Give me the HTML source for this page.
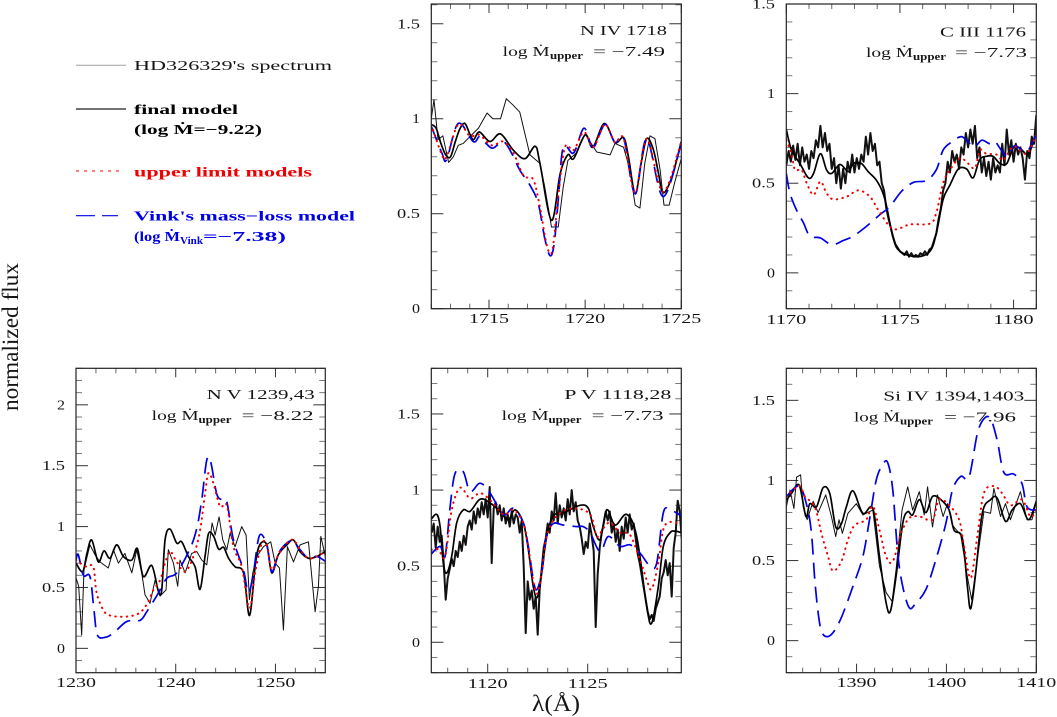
<!DOCTYPE html>
<html lang="en">
<head>
<meta charset="utf-8">
<title>HD326329 spectral line fits</title>
<style>
html,body{margin:0;padding:0;background:#fff;}
#figure{display:block;width:1057px;height:717px;background:#fff;}
text{font-family:"Liberation Serif","DejaVu Serif",serif;font-size:14px;fill:#161616;}
.b{font-weight:bold;fill:#000;}
.r{font-weight:bold;fill:#f00000;}
.u{font-weight:bold;fill:#0000e6;}
.sub{font-size:10px;font-weight:bold;}
.title{font-size:23px;}
</style>
</head>
<body>
<svg id="figure" xmlns="http://www.w3.org/2000/svg" width="1057" height="717" viewBox="0 0 1057 717">
  <g id="plots"></g>

  <g>
    <line x1="76" y1="65.3" x2="126" y2="65.3" stroke="#a0a0a0" stroke-width="1"/>
    <text x="134" y="70" textLength="198" lengthAdjust="spacingAndGlyphs">HD326329's spectrum</text>
    <line x1="76" y1="109" x2="126" y2="109" stroke="#444" stroke-width="1.6"/>
    <text class="b" x="134" y="114" textLength="104" lengthAdjust="spacingAndGlyphs">final model</text>
    <text class="b" x="134" y="134" textLength="128" lengthAdjust="spacingAndGlyphs">(log Ṁ=−9.22)</text>
    <line x1="76" y1="171" x2="124" y2="171" stroke="#f00000" stroke-width="1" stroke-dasharray="3 5"/>
    <text class="r" x="134" y="176.7" textLength="178" lengthAdjust="spacingAndGlyphs">upper limit models</text>
    <line x1="76" y1="215.7" x2="118" y2="215.7" stroke="#0000e6" stroke-width="1.2" stroke-dasharray="19 7"/>
    <text class="u" x="134" y="220.7" textLength="221" lengthAdjust="spacingAndGlyphs">Vink's mass−loss model</text>
    <text class="u" x="134" y="241" textLength="46" lengthAdjust="spacingAndGlyphs">(log Ṁ</text>
    <text class="u sub" x="180" y="244" textLength="23" lengthAdjust="spacingAndGlyphs">Vink</text>
    <text class="u" x="203" y="241" textLength="83" lengthAdjust="spacingAndGlyphs">=−7.38)</text>
  </g>

  <g>
    <text x="580" y="35" textLength="87" lengthAdjust="spacingAndGlyphs">N IV  1718</text>
    <text x="502.7" y="56" textLength="47" lengthAdjust="spacingAndGlyphs">log Ṁ</text>
    <text class="sub" x="550" y="59" textLength="33" lengthAdjust="spacingAndGlyphs">upper</text>
    <text x="593" y="56" textLength="72" lengthAdjust="spacingAndGlyphs">= −7.49</text>

    <text x="940" y="36.7" textLength="86" lengthAdjust="spacingAndGlyphs">C III  1176</text>
    <text x="866" y="57" textLength="47" lengthAdjust="spacingAndGlyphs">log Ṁ</text>
    <text class="sub" x="913" y="60" textLength="33" lengthAdjust="spacingAndGlyphs">upper</text>
    <text x="955" y="57" textLength="72" lengthAdjust="spacingAndGlyphs">= −7.73</text>

    <text x="206.7" y="399" textLength="108" lengthAdjust="spacingAndGlyphs">N V  1239,43</text>
    <text x="151.7" y="420" textLength="47" lengthAdjust="spacingAndGlyphs">log Ṁ</text>
    <text class="sub" x="198.5" y="423" textLength="33" lengthAdjust="spacingAndGlyphs">upper</text>
    <text x="241.7" y="420" textLength="72" lengthAdjust="spacingAndGlyphs">= −8.22</text>

    <text x="564.3" y="399" textLength="107" lengthAdjust="spacingAndGlyphs">P V  1118,28</text>
    <text x="501.7" y="420" textLength="47" lengthAdjust="spacingAndGlyphs">log Ṁ</text>
    <text class="sub" x="548.5" y="423" textLength="33" lengthAdjust="spacingAndGlyphs">upper</text>
    <text x="591.7" y="420" textLength="72" lengthAdjust="spacingAndGlyphs">= −7.73</text>

    <text x="883.3" y="400.7" textLength="141" lengthAdjust="spacingAndGlyphs">Si IV  1394,1403</text>
    <text x="854" y="421.7" textLength="46" lengthAdjust="spacingAndGlyphs">log Ṁ</text>
    <text class="sub" x="900" y="424.7" textLength="33" lengthAdjust="spacingAndGlyphs">upper</text>
    <text x="944" y="421.7" textLength="72" lengthAdjust="spacingAndGlyphs">= −7.96</text>
  </g>

  <text class="title" transform="translate(18 411) rotate(-90)" textLength="148" lengthAdjust="spacingAndGlyphs">normalized flux</text>
  <text class="title" x="532" y="711" textLength="48" lengthAdjust="spacingAndGlyphs">λ(Å)</text>
</svg>

<script>
/* ---------- N IV 1718 ---------- */
const n4XTicks = [1715, 1720, 1725];
const n4YTicks = [0, 0.5, 1, 1.5];
const n4SpectrumWave = [1712,1712.14,1712.35,1712.6,1712.9,1713.15,1713.4,1713.66,1714,1714.45,1714.9,1715.2,1715.6,1715.9,1716.27,1716.6,1716.87,1717.13,1717.65,1717.9,1718.25,1718.6,1718.86,1719.1,1719.55,1720,1720.6,1721.3,1721.55,1722,1722.33,1722.6,1722.85,1723.1,1723.37,1723.63,1723.9,1724.1,1724.37,1724.67,1725];
const n4SpectrumFlux = [1.0,1.10,0.89,0.91,0.77,0.80,0.86,0.87,0.905,0.95,1.03,1.0,1.0,1.105,1.07,1.035,0.92,0.81,0.765,0.64,0.43,0.43,0.64,0.78,0.82,0.92,0.825,0.81,0.87,0.85,0.73,0.545,0.53,0.765,0.91,0.895,0.73,0.545,0.545,0.67,0.79];
const n4FinalWave = [1712,1712.25,1712.5,1712.75,1713,1713.25,1713.5,1713.75,1714,1714.2,1714.5,1715.05,1715.6,1716.26,1716.87,1717.4,1717.65,1718.25,1718.7,1719.1,1719.4,1720,1720.4,1721,1721.55,1722,1722.25,1722.6,1722.9,1723.2,1723.54,1723.8,1724.05,1724.5,1725];
const n4FinalFlux = [0.97,0.95,0.87,0.81,0.80,0.88,0.95,0.975,0.92,0.89,0.93,0.88,0.92,0.835,0.79,0.855,0.765,0.465,0.71,0.81,0.79,0.915,0.85,0.975,0.875,0.90,0.80,0.605,0.76,0.895,0.84,0.72,0.61,0.69,0.88];
const n4UpperWave = [1712,1712.55,1712.8,1713.4,1714,1714.5,1715.14,1715.74,1716.27,1716.8,1717.3,1717.65,1717.95,1718.17,1718.34,1718.6,1718.95,1719.4,1719.94,1720.42,1721.03,1721.55,1722,1722.6,1723.2,1724.05,1725];
const n4UpperFlux = [0.97,0.81,0.80,0.97,0.91,0.915,0.86,0.88,0.82,0.70,0.68,0.535,0.36,0.29,0.335,0.59,0.85,0.835,0.93,0.85,0.97,0.875,0.895,0.61,0.895,0.615,0.88];
const n4VinkWave = [1712,1712.55,1712.8,1713.4,1714.18,1714.5,1714.85,1715.2,1715.74,1716.17,1716.6,1717.13,1717.56,1717.9,1718.17,1718.38,1718.6,1718.86,1719.4,1719.94,1720.42,1721.03,1721.55,1722,1722.6,1723.2,1724.05,1725];
const n4VinkFlux = [0.96,0.82,0.785,0.975,0.88,0.905,0.87,0.845,0.88,0.82,0.73,0.65,0.555,0.37,0.28,0.335,0.57,0.85,0.82,0.95,0.85,0.97,0.875,0.90,0.605,0.895,0.59,0.87];

/* ---------- C III 1176 ---------- */
const c3XTicks = [1170, 1175, 1180];
const c3YTicks = [0, 0.5, 1, 1.5];
const c3SpectrumStart = 1170;
const c3SpectrumStep = 0.1;
const c3SpectrumFlux = [0.60,0.68,0.62,0.71,0.63,0.72,0.60,0.70,0.62,0.66,0.58,0.68,0.64,0.74,0.70,0.82,0.70,0.78,0.68,0.72,0.58,0.64,0.50,0.60,0.47,0.58,0.50,0.62,0.56,0.66,0.56,0.64,0.58,0.66,0.62,0.76,0.66,0.78,0.68,0.72,0.60,0.62,0.50,0.46,0.36,0.30,0.25,0.20,0.16,0.14,0.12,0.11,0.10,0.12,0.09,0.11,0.09,0.10,0.09,0.11,0.10,0.12,0.10,0.13,0.14,0.18,0.22,0.30,0.36,0.46,0.50,0.62,0.56,0.68,0.62,0.66,0.58,0.70,0.66,0.78,0.70,0.80,0.72,0.82,0.64,0.70,0.56,0.64,0.54,0.62,0.52,0.64,0.56,0.60,0.56,0.72,0.60,0.80,0.66,0.74,0.62,0.72,0.66,0.70,0.64,0.52,0.68,0.64,0.76,0.72,0.88];
const c3FinalWave = [1170,1170.23,1170.6,1170.97,1171.2,1171.5,1171.77,1172,1172.36,1172.73,1172.95,1173.3,1173.6,1174,1174.34,1174.7,1175,1175.73,1176.32,1176.6,1176.9,1177.2,1177.57,1177.93,1178.22,1178.5,1178.8,1179.1,1179.4,1179.7,1180,1180.28,1180.65,1181];
const c3FinalFlux = [0.80,0.685,0.61,0.53,0.555,0.665,0.575,0.555,0.605,0.565,0.61,0.61,0.565,0.51,0.41,0.195,0.12,0.09,0.12,0.22,0.41,0.49,0.58,0.58,0.53,0.63,0.65,0.65,0.61,0.61,0.70,0.695,0.665,0.78];
const c3UpperWave = [1170,1170.23,1170.38,1170.67,1170.9,1171.2,1171.5,1171.77,1172.07,1172.65,1173.17,1173.68,1174.1,1174.7,1175.44,1176.32,1176.6,1176.9,1177.2,1177.64,1178,1178.3,1178.52,1178.8,1179.25,1179.55,1180,1180.57,1181];
const c3UpperFlux = [0.74,0.665,0.575,0.575,0.50,0.435,0.51,0.445,0.41,0.425,0.46,0.425,0.34,0.245,0.27,0.275,0.335,0.50,0.575,0.64,0.61,0.585,0.685,0.665,0.66,0.63,0.705,0.665,0.77];
const c3VinkWave = [1170,1170.16,1170.45,1170.75,1171.04,1171.5,1172,1172.5,1172.95,1173.53,1174.12,1174.56,1175.07,1175.6,1176.17,1176.6,1176.9,1177.27,1177.7,1178,1178.3,1178.6,1178.96,1179.2,1179.7,1180.06,1180.57,1181];
const c3VinkFlux = [0.555,0.445,0.35,0.28,0.205,0.195,0.157,0.18,0.205,0.26,0.325,0.37,0.455,0.505,0.515,0.575,0.685,0.73,0.76,0.73,0.705,0.74,0.72,0.73,0.65,0.71,0.675,0.775];

/* ---------- N V 1239,43 ---------- */
const n5XTicks = [1230, 1240, 1250];
const n5YTicks = [0, 0.5, 1, 1.5, 2];
const n5SpectrumWave = [1230,1230.27,1230.57,1230.8,1231.4,1231.9,1232.4,1233.24,1233.75,1234.25,1234.9,1235.6,1236.09,1236.59,1236.92,1237.42,1237.93,1238.43,1239.03,1239.26,1239.77,1240.2,1240.43,1240.94,1241.6,1242.11,1242.61,1243.11,1243.65,1243.95,1244.35,1244.72,1245.12,1245.45,1245.95,1246.62,1247.06,1247.39,1247.73,1248.13,1248.8,1249.53,1249.97,1250.4,1250.8,1251.2,1251.81,1252.47,1253.31,1253.98,1254.31,1254.55,1255];
const n5SpectrumFlux = [0.58,0.51,0.11,0.645,0.85,0.77,0.71,0.66,0.81,0.70,0.78,0.62,0.81,0.62,0.44,0.37,0.56,0.43,0.48,0.81,0.70,0.51,0.725,0.62,0.78,0.795,0.725,0.685,1.03,0.93,1.08,0.89,0.81,0.945,0.835,1.0,0.93,0.40,0.62,0.755,0.835,0.875,0.70,0.66,0.15,0.835,0.71,0.85,0.875,0.30,0.51,0.92,0.755];
const n5FinalWave = [1230,1230.67,1231.1,1231.57,1232.24,1232.8,1233.4,1234.08,1234.75,1235.6,1236.15,1236.75,1237.6,1238.26,1238.6,1238.93,1239.43,1240.1,1240.6,1241.27,1241.94,1242.44,1242.94,1243.3,1243.8,1244.3,1244.8,1245.3,1245.95,1246.8,1247.4,1248,1248.46,1249.13,1249.63,1250.3,1251.14,1251.8,1252.47,1253.31,1254.15,1255];
const n5FinalFlux = [0.70,0.63,0.78,0.89,0.71,0.80,0.74,0.85,0.755,0.725,0.82,0.59,0.68,0.47,0.48,0.89,0.98,0.865,0.875,0.755,0.67,0.485,0.755,0.945,0.92,0.815,0.83,0.74,0.67,0.62,0.27,0.70,0.855,0.85,0.62,0.77,0.85,0.89,0.795,0.74,0.755,0.795];
const n5UpperWave = [1230,1230.4,1231.07,1231.74,1232.07,1232.74,1233.41,1234.92,1236.25,1237.09,1237.76,1238.43,1238.93,1239.43,1240.1,1240.94,1241.77,1242.44,1242.94,1243.28,1243.78,1244.45,1245.12,1245.79,1246.62,1247.39,1247.96,1248.63,1249.13,1249.63,1250.3,1251.14,1251.81,1252.47,1253.31,1254.15,1255];
const n5UpperFlux = [0.725,0.70,0.67,0.67,0.455,0.315,0.27,0.26,0.285,0.36,0.48,0.56,0.70,0.795,0.71,0.63,0.755,0.97,1.27,1.44,1.355,1.165,1.175,0.835,0.67,0.33,0.62,0.86,0.85,0.645,0.77,0.865,0.89,0.81,0.74,0.755,0.795];
const n5VinkWave = [1230,1230.23,1230.74,1231.4,1231.8,1232.14,1232.91,1233.75,1235.08,1236.42,1237.09,1238.09,1239.1,1240.1,1241.44,1242.11,1242.61,1243.11,1243.51,1244.11,1244.62,1245.12,1245.79,1246.79,1247.29,1247.79,1248.39,1249.13,1249.63,1250.3,1251.14,1251.81,1252.47,1253.31,1254.15,1255];
const n5VinkFlux = [0.725,0.77,0.60,0.59,0.315,0.11,0.09,0.125,0.22,0.23,0.30,0.43,0.575,0.62,0.82,0.985,1.22,1.545,1.53,1.27,1.22,1.205,0.89,0.645,0.455,0.62,0.925,0.85,0.63,0.78,0.865,0.88,0.81,0.74,0.755,0.715];

/* ---------- P V 1118,28 ---------- */
const p5XTicks = [1120, 1125];
const p5YTicks = [0, 0.5, 1, 1.5];
const p5SpectrumStart = 1117.2;
const p5SpectrumStep = 0.1;
const p5SpectrumFlux = [0.72,0.78,0.62,0.76,0.66,0.70,0.52,0.28,0.42,0.48,0.55,0.50,0.60,0.56,0.66,0.60,0.70,0.64,0.76,0.80,0.74,0.86,0.78,0.88,0.82,0.92,0.84,0.94,0.82,1.02,0.52,0.88,0.92,0.84,0.90,0.80,0.88,0.78,0.84,0.76,0.86,0.78,0.84,0.82,0.72,0.80,0.50,0.06,0.40,0.28,0.34,0.22,0.30,0.05,0.35,0.48,0.62,0.68,0.78,0.72,0.86,0.80,0.98,0.78,0.90,0.82,0.88,0.80,0.94,0.84,1.00,0.86,0.92,0.80,0.76,0.68,0.58,0.66,0.62,0.78,0.70,0.60,0.10,0.45,0.62,0.72,0.78,0.86,0.80,0.86,0.72,0.78,0.66,0.74,0.60,0.76,0.68,0.82,0.72,0.84,0.74,0.78,0.68,0.58,0.52,0.44,0.36,0.28,0.20,0.15,0.18,0.14,0.22,0.26,0.30,0.42,0.46,0.54,0.44,0.52,0.30,0.62,0.72,0.93,0.86,0.68];
const p5FinalWave = [1117.18,1117.45,1117.62,1117.78,1117.95,1118.2,1118.45,1118.78,1119.12,1119.62,1120.12,1120.62,1121.03,1121.37,1121.78,1122.03,1122.28,1122.48,1122.7,1122.95,1123.28,1123.78,1124.62,1125.03,1125.28,1125.62,1125.95,1126.37,1126.95,1127.45,1127.95,1128.2,1128.53,1128.78,1129.12,1129.37,1129.68];
const p5FinalFlux = [0.81,0.84,0.76,0.52,0.455,0.565,0.785,0.87,0.86,0.94,0.915,0.86,0.805,0.87,0.785,0.61,0.365,0.295,0.455,0.695,0.83,0.85,0.90,0.88,0.76,0.675,0.87,0.77,0.84,0.695,0.235,0.125,0.365,0.63,0.72,0.73,0.72];
const p5UpperWave = [1117.18,1117.53,1117.87,1118.2,1118.62,1119.12,1119.62,1120.12,1120.78,1121.28,1121.78,1122.03,1122.28,1122.48,1122.7,1122.95,1123.45,1124.28,1125.12,1125.45,1125.78,1126.12,1126.62,1127.12,1127.62,1127.95,1128.2,1128.53,1128.78,1129.12,1129.68];
const p5UpperFlux = [0.61,0.61,0.565,0.87,1.015,0.945,0.98,0.935,0.84,0.87,0.785,0.63,0.40,0.32,0.455,0.695,0.83,0.88,0.84,0.695,0.75,0.785,0.72,0.705,0.54,0.41,0.35,0.52,0.74,0.79,0.775];
const p5VinkWave = [1117.18,1117.62,1117.87,1118.12,1118.37,1118.78,1119.12,1119.62,1120.12,1120.78,1121.28,1121.78,1122.03,1122.28,1122.45,1122.7,1122.95,1123.28,1123.78,1124.45,1124.78,1125.12,1125.62,1126.03,1126.62,1127.12,1127.62,1128.12,1128.45,1128.78,1129.12,1129.68];
const p5VinkFlux = [0.58,0.63,0.565,0.89,1.11,1.12,0.99,1.045,0.98,0.84,0.88,0.785,0.63,0.41,0.345,0.455,0.695,0.78,0.77,0.76,0.76,0.72,0.595,0.695,0.63,0.64,0.585,0.50,0.52,0.85,0.87,0.83];

/* ---------- Si IV 1394,1403 ---------- */
const si4XTicks = [1390, 1400, 1410];
const si4YTicks = [0, 0.5, 1, 1.5];
const si4SpectrumWave = [1382.18,1382.59,1383.03,1383.32,1383.77,1384.06,1384.5,1385.17,1385.72,1386.57,1387.2,1387.68,1388.05,1388.42,1389.04,1389.97,1390.7,1391.81,1392.55,1393.29,1393.95,1394.39,1395.06,1395.69,1396.24,1396.98,1397.53,1397.9,1398.45,1399,1399.63,1400.11,1400.67,1401.59,1402.33,1402.81,1403.43,1404.17,1404.91,1405.28,1406.02,1406.57,1407.12,1408.23,1408.97,1409.52,1410];
const si4SpectrumFlux = [0.835,0.94,0.825,1.02,1.035,0.835,0.755,0.87,0.80,0.91,0.775,0.65,0.755,0.67,0.795,0.855,0.785,0.815,0.465,0.30,0.245,0.44,0.815,0.96,0.815,0.93,0.785,0.96,0.71,0.91,0.775,0.855,0.72,0.66,0.40,0.255,0.505,0.805,0.795,0.95,0.775,0.855,0.755,0.93,0.755,0.755,0.88];
const si4FinalWave = [1382.18,1382.77,1383.62,1384.36,1384.8,1385.54,1386.28,1387.01,1387.68,1388.31,1388.86,1389.6,1390.7,1391.81,1392.55,1393.29,1393.77,1394.39,1395.13,1395.69,1396.24,1396.98,1397.72,1398.45,1399.38,1400.3,1400.85,1401.77,1402.33,1402.7,1403.25,1403.99,1404.91,1405.65,1406.57,1407.31,1408.23,1409.15,1410];
const si4FinalFlux = [0.875,0.92,0.97,0.775,0.855,0.835,0.955,0.92,0.71,0.73,0.835,0.935,0.795,0.825,0.525,0.235,0.185,0.40,0.73,0.805,0.785,0.88,0.80,0.90,0.88,0.815,0.69,0.64,0.34,0.20,0.42,0.795,0.88,0.89,0.745,0.815,0.855,0.755,0.87];
const si4UpperWave = [1382.18,1383.62,1384.25,1385.35,1386.09,1386.83,1387.38,1388.31,1389.04,1389.78,1391.07,1391.81,1392.55,1393.29,1394.03,1394.95,1395.87,1396.98,1398.45,1399.19,1400.3,1401.41,1401.96,1402.7,1403.43,1404.17,1405.28,1406.2,1407.12,1408.41,1409.34,1410];
const si4UpperFlux = [0.90,0.965,0.90,0.835,0.67,0.525,0.435,0.495,0.63,0.72,0.755,0.84,0.69,0.525,0.495,0.67,0.765,0.775,0.755,0.88,0.845,0.755,0.59,0.39,0.65,0.92,0.965,0.92,0.845,0.88,0.775,0.815];
const si4VinkWave = [1382.18,1383.62,1384.5,1384.98,1385.35,1385.72,1386.09,1386.65,1387.38,1388.31,1389.6,1390.7,1391.44,1392.18,1392.92,1393.47,1394.03,1394.58,1395.13,1395.87,1396.61,1397.72,1398.82,1399.93,1400.67,1401.59,1402.51,1403.43,1404.17,1404.91,1405.65,1406.39,1407.49,1408.41,1408.97,1410];
const si4VinkFlux = [0.90,0.965,0.835,0.67,0.38,0.175,0.06,0.025,0.05,0.145,0.34,0.525,0.755,1.0,1.10,1.11,0.94,0.545,0.34,0.205,0.235,0.32,0.505,0.73,0.94,1.025,1.02,1.29,1.385,1.385,1.25,1.05,1.04,0.98,0.835,0.815];

const SVGNS = 'http://www.w3.org/2000/svg';
const root = document.getElementById('plots');

function seq(start, step, values) {
  return values.map(function (_, i) { return start + i * step; });
}

const panels = [
  { id: 'n4', left: 431.3, right: 681.3, top: 4, bottom: 308.7, xMin: 1712, xMax: 1725, yMin: 0, yMax: 1.604, xMajor: 5, xMinor: 1, yLabelRight: 420, xLabelBase: 323,
    xTicks: n4XTicks, yTicks: n4YTicks,
    spectrumWave: n4SpectrumWave, spectrum: n4SpectrumFlux, finalWave: n4FinalWave, final: n4FinalFlux, upperWave: n4UpperWave, upper: n4UpperFlux, vinkWave: n4VinkWave, vink: n4VinkFlux },
  { id: 'c3', left: 786.3, right: 1036.3, top: 4, bottom: 308.7, xMin: 1170, xMax: 1181, yMin: -0.2, yMax: 1.5, xMajor: 5, xMinor: 1, yLabelRight: 775, xLabelBase: 324,
    xTicks: c3XTicks, yTicks: c3YTicks,
    spectrumWave: seq(c3SpectrumStart, c3SpectrumStep, c3SpectrumFlux), spectrum: c3SpectrumFlux, finalWave: c3FinalWave, final: c3FinalFlux, upperWave: c3UpperWave, upper: c3UpperFlux, vinkWave: c3VinkWave, vink: c3VinkFlux },
  { id: 'n5', left: 76, right: 325.3, top: 368.3, bottom: 672.7, xMin: 1230, xMax: 1255, yMin: -0.2, yMax: 2.3, xMajor: 10, xMinor: 2, yLabelRight: 65, xLabelBase: 687,
    xTicks: n5XTicks, yTicks: n5YTicks,
    spectrumWave: n5SpectrumWave, spectrum: n5SpectrumFlux, finalWave: n5FinalWave, final: n5FinalFlux, upperWave: n5UpperWave, upper: n5UpperFlux, vinkWave: n5VinkWave, vink: n5VinkFlux },
  { id: 'p5', left: 431.3, right: 681.3, top: 368.3, bottom: 672.7, xMin: 1117.18, xMax: 1129.68, yMin: -0.2, yMax: 1.8, xMajor: 5, xMinor: 1, yLabelRight: 420, xLabelBase: 688,
    xTicks: p5XTicks, yTicks: p5YTicks,
    spectrumWave: seq(p5SpectrumStart, p5SpectrumStep, p5SpectrumFlux), spectrum: p5SpectrumFlux, finalWave: p5FinalWave, final: p5FinalFlux, upperWave: p5UpperWave, upper: p5UpperFlux, vinkWave: p5VinkWave, vink: p5VinkFlux },
  { id: 'si4', left: 786.3, right: 1036.3, top: 368.3, bottom: 672.7, xMin: 1382.18, xMax: 1410, yMin: -0.2, yMax: 1.7, xMajor: 10, xMinor: 2, yLabelRight: 775, xLabelBase: 687,
    xTicks: si4XTicks, yTicks: si4YTicks,
    spectrumWave: si4SpectrumWave, spectrum: si4SpectrumFlux, finalWave: si4FinalWave, final: si4FinalFlux, upperWave: si4UpperWave, upper: si4UpperFlux, vinkWave: si4VinkWave, vink: si4VinkFlux }
];

function make(tag, parent) {
  const node = document.createElementNS(SVGNS, tag);
  parent.appendChild(node);
  return node;
}

function smoothPath(xs, ys, sx, sy) {
  let d = 'M' + sx(xs[0]).toFixed(2) + ' ' + sy(ys[0]).toFixed(2);
  for (let i = 0; i < xs.length - 1; i++) {
    const i0 = Math.max(i - 1, 0);
    const i3 = Math.min(i + 2, xs.length - 1);
    const x1 = sx(xs[i]), y1 = sy(ys[i]), x2 = sx(xs[i + 1]), y2 = sy(ys[i + 1]);
    const c1x = x1 + (x2 - sx(xs[i0])) / 6, c1y = y1 + (y2 - sy(ys[i0])) / 6;
    const c2x = x2 - (sx(xs[i3]) - x1) / 6, c2y = y2 - (sy(ys[i3]) - y1) / 6;
    d += 'C' + c1x.toFixed(2) + ' ' + c1y.toFixed(2) + ' ' + c2x.toFixed(2) + ' ' + c2y.toFixed(2) + ' ' + x2.toFixed(2) + ' ' + y2.toFixed(2);
  }
  return d;
}

function polyPath(xs, ys, sx, sy) {
  return xs.map(function (x, i) {
    return (i ? 'L' : 'M') + sx(x).toFixed(2) + ' ' + sy(ys[i]).toFixed(2);
  }).join('');
}

function isMultiple(value, step) {
  const r = value / step;
  return Math.abs(r - Math.round(r)) < 1e-6;
}

panels.forEach(function (p) {
  const sx = function (v) { return p.left + (v - p.xMin) * (p.right - p.left) / (p.xMax - p.xMin); };
  const sy = function (v) { return p.bottom - (v - p.yMin) * (p.bottom - p.top) / (p.yMax - p.yMin); };

  const group = make('g', root);
  
  

  const clip = make('clipPath', group);
  clip.setAttribute('id', 'clip-' + p.id);
  
  
  const clipRect = make('rect', clip);
  clipRect.setAttribute('x', p.left);
  clipRect.setAttribute('y', p.top);
  clipRect.setAttribute('width', p.right - p.left);
  clipRect.setAttribute('height', p.bottom - p.top);

  /* minor and major ticks on all four sides */
  const firstX = Math.ceil(p.xMin / p.xMinor) * p.xMinor;
  for (let v = firstX; v <= p.xMax + 1e-6; v += p.xMinor) {
    const major = isMultiple(v, p.xMajor);
    const len = major ? 9 : 5;
    [[p.bottom, p.bottom - len], [p.top, p.top + len]].forEach(function (e) {
      const t = make('line', group);
      
      
      t.setAttribute('x1', sx(v));
      t.setAttribute('x2', sx(v));
      t.setAttribute('y1', e[0]);
      t.setAttribute('y2', e[1]);
      t.setAttribute('stroke', major ? '#333' : '#666');
      t.setAttribute('stroke-width', '1');
    });
  }
  const firstY = Math.ceil(p.yMin / 0.1 - 1e-6) * 0.1;
  for (let n = 0, v = firstY; v <= p.yMax + 1e-6; n++, v = firstY + n * 0.1) {
    const major = isMultiple(v, 0.5);
    const len = major ? 12 : 6;
    [[p.left, p.left + len], [p.right, p.right - len]].forEach(function (e) {
      const t = make('line', group);
      
      
      t.setAttribute('x1', e[0]);
      t.setAttribute('x2', e[1]);
      t.setAttribute('y1', sy(v));
      t.setAttribute('y2', sy(v));
      t.setAttribute('stroke', major ? '#333' : '#777');
      t.setAttribute('stroke-width', '1');
    });
  }

  /* tick labels */
  p.xTicks.forEach(function (v) {
    const s = String(v);
    const w = 40;
    const t = make('text', group);
    
    
    t.setAttribute('x', sx(v) - w / 2);
    t.setAttribute('y', p.xLabelBase);
    t.setAttribute('textLength', w);
    t.setAttribute('lengthAdjust', 'spacingAndGlyphs');
    t.textContent = s;
  });
  p.yTicks.forEach(function (v) {
    const s = String(v);
    const w = s.length === 1 ? 8 : 23;
    const t = make('text', group);
    
    
    t.setAttribute('x', p.yLabelRight - w);
    t.setAttribute('y', sy(v) + 4.5);
    t.setAttribute('textLength', w);
    t.setAttribute('lengthAdjust', 'spacingAndGlyphs');
    t.textContent = s;
  });

  /* series */
  const curves = make('g', group);
  
  
  curves.setAttribute('clip-path', 'url(#clip-' + p.id + ')');
  curves.setAttribute('fill', 'none');
  curves.setAttribute('stroke-linejoin', 'round');

  const spectrum = make('path', curves);
  
  
  spectrum.setAttribute('d', polyPath(p.spectrumWave, p.spectrum, sx, sy));
  spectrum.setAttribute('stroke', '#111');
  spectrum.setAttribute('stroke-width', p.spectrum.length > 100 ? '2' : '1');

  const finalLine = make('path', curves);
  
  
  finalLine.setAttribute('d', smoothPath(p.finalWave, p.final, sx, sy));
  finalLine.setAttribute('stroke', '#000');
  finalLine.setAttribute('stroke-width', '1.7');

  const vink = make('path', curves);
  
  
  vink.setAttribute('d', smoothPath(p.vinkWave, p.vink, sx, sy));
  vink.setAttribute('stroke', '#0000e6');
  vink.setAttribute('stroke-width', '1.7');
  vink.setAttribute('stroke-dasharray', '16 8');

  const upper = make('path', curves);
  
  
  upper.setAttribute('d', smoothPath(p.upperWave, p.upper, sx, sy));
  upper.setAttribute('stroke', '#f00000');
  upper.setAttribute('stroke-width', '2');
  upper.setAttribute('stroke-linecap', 'round');
  upper.setAttribute('stroke-dasharray', '0.5 5.2');

  /* frame */
  const frame = make('rect', group);
  
  
  frame.setAttribute('x', p.left);
  frame.setAttribute('y', p.top);
  frame.setAttribute('width', p.right - p.left);
  frame.setAttribute('height', p.bottom - p.top);
  frame.setAttribute('fill', 'none');
  frame.setAttribute('stroke', '#222');
  frame.setAttribute('stroke-width', '1.2');
});
</script>
</body>
</html>
